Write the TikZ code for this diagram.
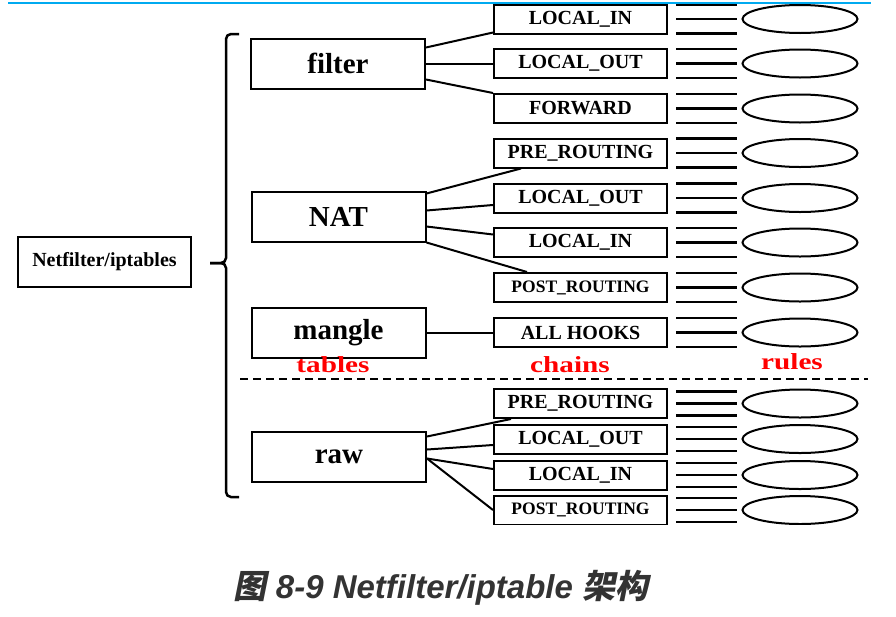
\documentclass[tikz,border=0pt]{standalone}
\usepackage{fontspec}
\usepackage{graphicx}
\setmainfont{Liberation Serif}
\newfontfamily\capfont{Liberation Sans}
\newfontfamily\cjk[FakeSlant=0.2]{Noto Sans CJK SC}
\usetikzlibrary{shapes.geometric}
\definecolor{topline}{RGB}{0,170,240}
\definecolor{capgray}{RGB}{51,51,51}

\begin{document}
\begin{tikzpicture}[x=1pt,y=-1pt,line width=2pt,
  tablebox/.style={draw,minimum width=174pt,minimum height=50pt,inner sep=0pt,font=\fontsize{29}{29}\selectfont\bfseries},
  chainbox/.style={draw,minimum width=173pt,minimum height=29pt,inner sep=0pt,font=\fontsize{20}{20}\selectfont\bfseries},
  rulering/.style={draw,ellipse,minimum width=115pt,minimum height=28pt,inner sep=0pt},
  redlabel/.style={text=red,anchor=base,font=\fontsize{23}{23}\selectfont\bfseries}]
\useasboundingbox (0,0) rectangle (896,616);
\draw[topline,line width=2pt] (8,3) -- (871,3);
\begin{scope}
\clip (0,4) rectangle (896,524);
\node[draw,minimum width=173pt,minimum height=50pt,font=\fontsize{20}{20}\selectfont\bfseries] (nf) at (104.5,262) {Netfilter/iptables};
% bracket of the tables
\draw[line width=2.5pt,rounded corners=5pt] (239,34) -- (226,34) -- (226,263) -- (210,263);
\draw[line width=2.5pt,rounded corners=5pt] (210,263) -- (226,263) -- (226,497) -- (239,497);
% tables
\node[tablebox] (filter) at (338,63.5) {filter};
\node[tablebox] (nat) at (338.5,216.5) {NAT};
\node[tablebox] (mangle) at (338.5,332.5) {mangle};
\node[tablebox] (raw) at (339,456.5) {raw};
% chains and rules
\foreach \n/\y/\d/\t in {fin/19/14.5/LOCAL\_IN, fout/63.5/14.5/LOCAL\_OUT, ffwd/108.5/14.5/FORWARD,
  npre/153/14.5/PRE\_ROUTING, nout/198/14.5/LOCAL\_OUT, nin/242.5/14.5/LOCAL\_IN,
  npost/287.5/14.5/{\fontsize{17.5}{17.5}\selectfont POST\_ROUTING}, mall/332.5/14.5/ALL HOOKS,
  rpre/403.5/12/PRE\_ROUTING, rout/439/12/LOCAL\_OUT, rin/475/12/LOCAL\_IN,
  rpost/510/12/{\fontsize{17.5}{17.5}\selectfont POST\_ROUTING}}{
  \node[chainbox] (\n) at (580.5,\y) {\t};
  \node[rulering] (r\n) at (800,\y) {};
  \draw[line width=2.5pt] ([xshift=8pt,yshift=\d pt]\n.east) -- ([xshift=-5pt,yshift=\d pt]r\n.west);
  \draw[line width=2.5pt] ([xshift=8pt]\n.east) -- ([xshift=-5pt]r\n.west);
  \draw[line width=2.5pt] ([xshift=8pt,yshift=-\d pt]\n.east) -- ([xshift=-5pt,yshift=-\d pt]r\n.west);
}
% table to chain
\draw ([yshift=16pt]filter.east) -- ([yshift=2pt]fin.south west);
\draw (filter.east) -- (fout.west);
\draw ([yshift=-16pt]filter.east) -- (ffwd.north west);
\draw ([yshift=23pt]nat.east) -- ([xshift=28pt]npre.south west);
\draw ([yshift=6pt]nat.east) -- ([yshift=-7pt]nout.west);
\draw ([yshift=-10pt]nat.east) -- ([yshift=8pt]nin.west);
\draw (nat.south east) -- ([xshift=34pt]npost.north west);
\draw (mangle.east) -- (mall.west);
\draw ([yshift=20pt]raw.east) -- ([xshift=18pt]rpre.south west);
\draw ([yshift=7pt]raw.east) -- ([yshift=-6pt]rout.west);
\draw ([yshift=-2pt]raw.east) -- ([yshift=6pt]rin.west);
\draw ([yshift=-2pt]raw.east) -- (rpost.west);
% column titles
\node[redlabel] (tlab) at (333,372) {\scalebox{1.27}[1]{tables}};
\node[redlabel] (clab) at (570,372) {\scalebox{1.27}[1]{chains}};
\node[redlabel] (rlab) at (792,369) {\scalebox{1.27}[1]{rules}};
\draw[dash pattern=on 8pt off 5pt] (240,379) -- (868,379);
\end{scope}
\node[text=capgray,font=\fontsize{33}{33}\selectfont\capfont\bfseries\itshape] (cap) at (441,588) {{\cjk 图} 8-9 Netfilter/iptable {\cjk 架构}};
\end{tikzpicture}
\end{document}
